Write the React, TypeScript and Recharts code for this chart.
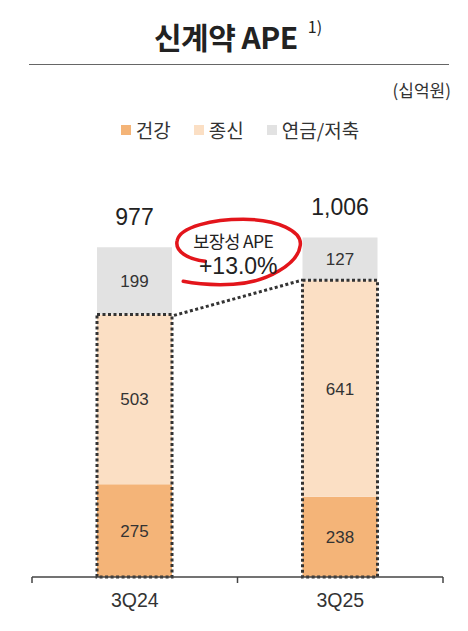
import { BarChart, Bar, XAxis, YAxis, LabelList, Legend } from 'recharts';

const QUARTERS = ['3Q24', '3Q25'];
const HEALTH = [275, 238];
const WHOLE_LIFE = [503, 641];
const ANNUITY = [199, 127];
const TOTALS = ['977', '1,006'];
const PROTECTION_GROWTH = '+13.0%';

const SERIES = [
  { key: 'health', name: '건강', color: '#f4b478' },
  { key: 'whole', name: '종신', color: '#fbdfc4' },
  { key: 'annuity', name: '연금/저축', color: '#e2e2e2' },
];

const data = QUARTERS.map((q, i) => ({
  q,
  health: HEALTH[i],
  whole: WHOLE_LIFE[i],
  annuity: ANNUITY[i],
  total: TOTALS[i],
}));

const W = 468;
const H = 631;
const MARGIN = { top: 172, right: 25, bottom: 24, left: 32 };
const HALF_BAND = (W - MARGIN.left - MARGIN.right) / QUARTERS.length / 2;
const KR = '"Noto Sans CJK KR", "Noto Sans", sans-serif';
const NUM = '"Liberation Sans", "Noto Sans CJK KR", sans-serif';
const INK = '#333';

// top-left corners of the dotted protection boxes, filled while the bars render
const boxes: { x: number; y: number; w: number }[] = [];

function AnnuityShape(props: any) {
  const { x, y, width, height, index } = props;
  const p = props.payload ?? props;
  const ppu = height / p.annuity;
  const top = y + height;
  const bottom = top + ppu * (p.health + p.whole);
  boxes[index] = { x, y: top, w: width };
  const prev = boxes[0];
  const cx = prev ? (prev.x + prev.w + x) / 2 - 4 : 0;
  const cy = top - 27;
  return (
    <g>
      <rect x={x} y={y} width={width} height={height} fill={SERIES[2].color} />
      <rect
        x={x}
        y={top}
        width={width}
        height={bottom - top}
        fill="none"
        stroke="#333"
        strokeWidth={3}
        strokeDasharray="3 2.5"
      />
      {index === 1 && prev && (
        <g>
          <line
            x1={prev.x + prev.w + 2}
            y1={prev.y + 1}
            x2={x - 1}
            y2={top}
            stroke="#333"
            strokeWidth={3}
            strokeDasharray="3 2.5"
          />
          <path
            transform={`translate(${cx},${cy})`}
            d="M -28 8 C -45 6, -59 -2, -56 -13 C -53 -27, -20 -34, 10 -34 C 45 -34, 69 -22, 67 -8 C 65 10, 35 29, 0 31 C -20 32, -40 30, -50 28"
            fill="none"
            stroke="#e3151b"
            strokeWidth={3.5}
            strokeLinecap="round"
          />
          <text
            x={cx}
            y={cy - 12.5}
            textAnchor="middle"
            dominantBaseline="central"
            fontFamily={KR}
            fontSize={17.5}
            letterSpacing={-0.6}
            fill="#222"
          >
            보장성 APE
          </text>
          <text
            x={cx + 5}
            y={cy + 13}
            textAnchor="middle"
            dominantBaseline="central"
            fontFamily={NUM}
            fontSize={23}
            fill="#222"
          >
            {PROTECTION_GROWTH}
          </text>
        </g>
      )}
    </g>
  );
}

function TotalLabel(props: any) {
  const { x, y, width, value } = props;
  return (
    <text
      x={x + width / 2}
      y={y - 22}
      textAnchor="middle"
      fontFamily={NUM}
      fontSize={23}
      fill="#222"
    >
      {value}
    </text>
  );
}

function QuarterTick(props: any) {
  const { x, y, payload, index } = props;
  const axisY = y - 8;
  const marks = index === 0 ? [x - HALF_BAND, x + HALF_BAND] : [x + HALF_BAND];
  return (
    <g>
      {marks.map((mx) => (
        <line key={mx} x1={mx} y1={axisY} x2={mx} y2={axisY + 6} stroke="#444" strokeWidth={1.5} />
      ))}
      <text
        x={x}
        y={y + 22}
        textAnchor="middle"
        fontFamily={NUM}
        fontSize={19.5}
        fill={INK}
      >
        {payload.value}
      </text>
    </g>
  );
}

function LegendContent() {
  return (
    <div
      style={{
        display: 'flex',
        justifyContent: 'center',
        gap: 23,
        paddingLeft: 12,
        fontFamily: KR,
        fontSize: 19,
        color: INK,
        lineHeight: '24px',
      }}
    >
      {SERIES.map((s) => (
        <div key={s.key} style={{ display: 'flex', alignItems: 'center' }}>
          <span style={{ width: 10, height: 10, background: s.color, marginRight: 5 }} />
          <span>{s.name}</span>
        </div>
      ))}
    </div>
  );
}

const segLabel = { fontFamily: NUM, fontSize: 17, fill: INK };

export default function App() {
  return (
    <div
      style={{
        position: 'absolute',
        left: 0,
        top: 0,
        width: W,
        height: H,
        background: '#fff',
        fontFamily: KR,
      }}
    >
      <div
        style={{
          position: 'absolute',
          top: 17,
          left: 0,
          width: W,
          display: 'flex',
          justifyContent: 'center',
          lineHeight: '38px',
          color: '#222',
          paddingLeft: 8,
          boxSizing: 'border-box',
        }}
      >
        <span style={{ fontSize: 30, fontWeight: 700, letterSpacing: -0.5 }}>신계약 APE</span>
        <span style={{ fontSize: 16, marginLeft: 10, lineHeight: '18px' }}>1)</span>
      </div>
      <div
        style={{
          position: 'absolute',
          top: 64,
          left: 29,
          width: 420,
          borderTop: '1.5px solid #666',
        }}
      />
      <div
        style={{
          position: 'absolute',
          top: 79,
          right: 17,
          fontSize: 17,
          lineHeight: '22px',
          color: INK,
        }}
      >
        (십억원)
      </div>
      <BarChart width={W} height={H} data={data} margin={MARGIN} barSize={75}>
        <XAxis
          dataKey="q"
          axisLine={{ stroke: '#444', strokeWidth: 1.5 }}
          tickLine={false}
          tick={<QuarterTick />}
          height={30}
        />
        <YAxis hide domain={[0, 1200]} />
        <Legend
          verticalAlign="middle"
          align="center"
          content={<LegendContent />}
          wrapperStyle={{ top: 118, left: 0, width: W }}
        />
        <Bar dataKey="health" name="건강" stackId="a" fill={SERIES[0].color} isAnimationActive={false}>
          <LabelList dataKey="health" position="center" style={segLabel} />
        </Bar>
        <Bar dataKey="whole" name="종신" stackId="a" fill={SERIES[1].color} isAnimationActive={false}>
          <LabelList dataKey="whole" position="center" style={segLabel} />
        </Bar>
        <Bar
          dataKey="annuity"
          name="연금/저축"
          stackId="a"
          fill={SERIES[2].color}
          shape={<AnnuityShape />}
          isAnimationActive={false}
        >
          <LabelList dataKey="annuity" position="center" style={segLabel} />
          <LabelList dataKey="total" content={<TotalLabel />} />
        </Bar>
      </BarChart>
    </div>
  );
}
